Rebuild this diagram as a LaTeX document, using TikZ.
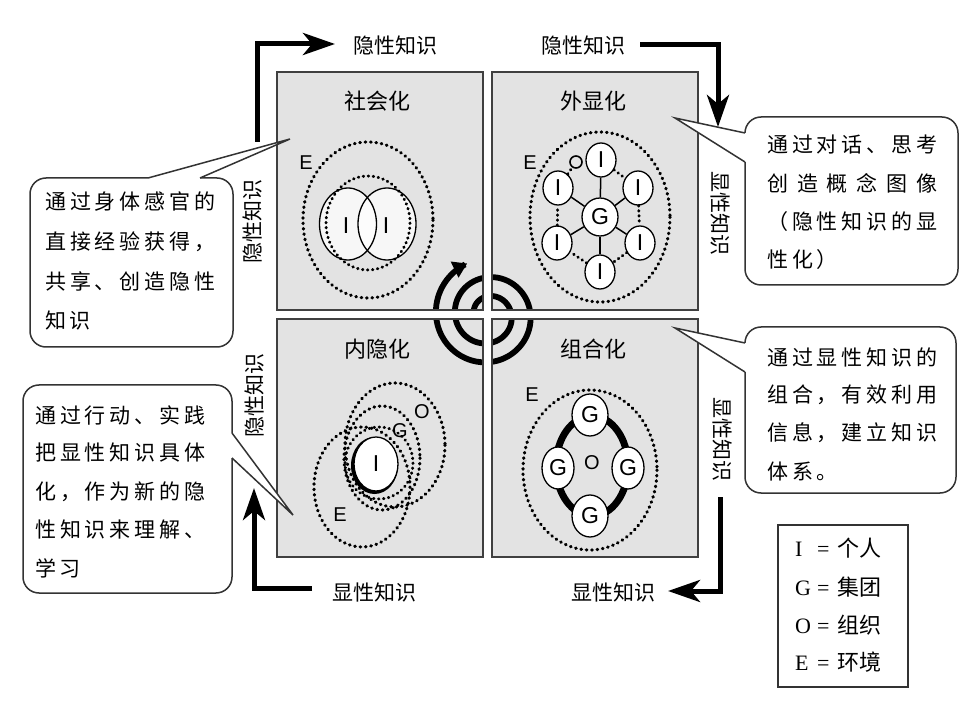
\documentclass[tikz,border=0pt]{standalone}
\usepackage{fontspec}
\setmainfont{Liberation Serif}
\newfontfamily\cjk{Noto Sans CJK SC}
\newfontfamily\lsans{Liberation Sans}
\usetikzlibrary{shapes.geometric,arrows.meta}
\def\spr#1{\sprA#1\relax}
\def\sprA#1#2{#1\ifx#2\relax\else\hfill\expandafter\sprA\expandafter#2\fi}
\newcommand\jl[2]{\makebox[#1][l]{\spr{#2}}}
\tikzset{
  boxfill/.style={fill=black!11},
  boxline/.style={draw=black!75, line width=1.4pt},
  dots/.style={line width=3.2pt, dash pattern=on 0.6pt off 4.8pt, line cap=round},
  sdots/.style={line width=3pt, dash pattern=on 0.5pt off 4.5pt, line cap=round},
  spoke/.style={line width=1.5pt},
  ell/.style={ellipse, draw=black, line width=1.3pt, inner sep=0pt},
  bigarrow/.style={line width=5pt, -{Stealth[length=32pt,width=22pt,inset=9pt]}},
  spiral/.style={line width=5.8pt, -{Triangle[length=14pt,width=17pt]}},
  title/.style={font=\cjk\fontsize{22}{22}\selectfont, inner sep=0pt},
  lab/.style={font=\cjk\fontsize{21}{21}\selectfont, inner sep=0pt},
  letter/.style={font=\lsans\fontsize{20}{20}\selectfont, inner sep=0pt},
  bigl/.style={font=\lsans\fontsize{23}{23}\selectfont},
  callout/.style={draw=black!80, line width=1.5pt, fill=white},
  ctext/.style={font=\cjk\fontsize{21}{21}\selectfont, inner sep=0pt, anchor=west},
  legtext/.style={font=\fontsize{22}{22}\selectfont, inner sep=0pt, anchor=west},
}
\begin{document}
\begin{tikzpicture}[x=1pt,y=-1pt]
\useasboundingbox (0,0) rectangle (975,703);
\fill[white] (0,0) rectangle (975,703);

% quadrant boxes
\foreach \a/\b/\c/\d in {277/72/483/310, 492/72/698/310, 277/319/483/557, 492/319/698/557}
  \fill[boxfill] (\a,\b) rectangle (\c,\d);

% spiral
\draw[spiral] plot[domain=10:788, samples=260, smooth, variable=\t]
  ({488 - (14+19*\t/360)*cos(\t)}, {315 - (14+19*\t/360)*sin(\t)});
\fill[white] (483,245) rectangle (492,385);
\fill[white] (415,310) rectangle (565,319);
\foreach \a/\b/\c/\d in {277/72/483/310, 492/72/698/310, 277/319/483/557, 492/319/698/557}
  \draw[boxline] (\a,\b) rectangle (\c,\d);

% titles
\node[title] (t1) at (377,101) {社会化};
\node[title] (t2) at (593,101) {外显化};
\node[title] (t3) at (377,349) {内隐化};
\node[title] (t4) at (593,349) {组合化};

% --- socialization (TL)
\draw[dots] (368,220) ellipse [x radius=65, y radius=78];
\fill[white, opacity=0.75] (348,224) ellipse [x radius=28.5, y radius=36];
\fill[white, opacity=0.75] (387,224) ellipse [x radius=29, y radius=36];
\node[ell, minimum width=57pt, minimum height=72pt] (sa) at (348,224) {};
\node[ell, minimum width=58pt, minimum height=72pt] (sb) at (387,224) {};
\draw[sdots] (368,223) ellipse [x radius=42, y radius=47];
\node[bigl] (sla) at (346,226) {I};
\node[bigl] (slb) at (386,226) {I};
\node[letter] (se) at (306,163) {E};

% --- externalization (TR)
\draw[dots] (600,217) ellipse [x radius=70, y radius=85];
\node[ell, fill=white, minimum width=36pt, minimum height=38pt, bigl] (g) at (600,217) {G};
\node[ell, fill=white, minimum width=30pt, minimum height=34pt, bigl] (iT) at (601,160) {I};
\node[ell, fill=white, minimum width=30pt, minimum height=34pt, bigl] (iUL) at (558,188) {I};
\node[ell, fill=white, minimum width=30pt, minimum height=34pt, bigl] (iUR) at (638,188) {I};
\node[ell, fill=white, minimum width=30pt, minimum height=34pt, bigl] (iLL) at (557,243) {I};
\node[ell, fill=white, minimum width=30pt, minimum height=34pt, bigl] (iLR) at (640,243) {I};
\node[ell, fill=white, minimum width=30pt, minimum height=34pt, bigl] (iB) at (600,272) {I};
\node[circle, draw=black, line width=1.6pt, minimum size=12pt, inner sep=0pt] (oc) at (576,162) {};
\foreach \n in {iT,iUL,iUR,iLL,iLR,iB} \draw[spoke] (g) -- (\n);
\draw[sdots] (iT) -- (iUR);
\draw[sdots] (iUR) -- (iLR);
\draw[sdots] (iLR) -- (iB);
\draw[sdots] (iB) -- (iLL);
\draw[sdots] (iLL) -- (iUL);
\draw[sdots] (iUL) -- (oc);
\node[letter] (xe) at (530,163) {E};

% --- internalization (BL)
\draw[dots] (395,445) ellipse [x radius=50, y radius=62];
\draw[dots] (382,458) ellipse [x radius=38, y radius=52];
\draw[sdots] (379,463) ellipse [x radius=34, y radius=36];
\draw[dots] (362,487) ellipse [x radius=48, y radius=60];
\fill[black] (374.5,465.5) ellipse [x radius=23.5, y radius=28.5];
\node[ell, fill=white, minimum width=44pt, minimum height=54pt, bigl] (ni) at (376,464) {I};
\node[letter] (no) at (422,412) {O};
\node[letter] (ng) at (400,431) {G};
\node[letter] (ne) at (340,515) {E};

% --- combination (BR)
\draw[dots] (590,470) ellipse [x radius=67, y radius=80];
\draw[line width=7pt] (592,466) ellipse [x radius=36, y radius=50];
\node[ell, fill=white, minimum width=36pt, minimum height=42pt, bigl] (gT) at (590,415) {G};
\node[ell, fill=white, minimum width=32pt, minimum height=42pt, bigl] (gL) at (558,468) {G};
\node[ell, fill=white, minimum width=32pt, minimum height=42pt, bigl] (gR) at (628,468) {G};
\node[ell, fill=white, minimum width=36pt, minimum height=42pt, bigl] (gB) at (590,516) {G};
\node[letter] (co) at (592,463) {O};
\node[letter] (ce) at (532,395) {E};

% --- callouts
% TL
\draw[callout, rounded corners=16pt] (30,178) rectangle (233,347);
\fill[white] (148,180) -- (148,178) -- (290,139) -- (200,178) -- (200,180) -- cycle;
\coordinate (p1) at (290,139);
\draw[callout, fill=none] (148,178) -- (p1) -- (200,178);
\node[ctext] (c11) at (45,202) {\jl{170pt}{通过身体感官的}};
\node[ctext] (c12) at (45,242) {\jl{170pt}{直接经验获得，}};
\node[ctext] (c13) at (45,281) {\jl{170pt}{共享、创造隐性}};
\node[ctext] (c14) at (45,320) {\jl{45.8pt}{知识}};
% TR
\draw[callout, rounded corners=16pt] (745,117) rectangle (958,285);
\fill[white] (747,133) -- (745,133) -- (675,118) -- (745,162) -- (747,162) -- cycle;
\coordinate (p2) at (675,118);
\draw[callout, fill=none] (745,133) -- (p2) -- (745,162);
\node[ctext] (c21) at (767,145) {\jl{170pt}{通过对话、思考}};
\node[ctext] (c22) at (767,183) {\jl{170pt}{创造概念图像}};
\node[ctext] (c23) at (767,222) {\jl{170pt}{（隐性知识的显}};
\node[ctext] (c24) at (767,260) {\jl{70.7pt}{性化）}};
% BL
\draw[callout, rounded corners=16pt] (23,385) rectangle (232,593);
\fill[white] (230,433) -- (232,433) -- (293,515) -- (232,458) -- (230,458) -- cycle;
\coordinate (p3) at (293,515);
\draw[callout, fill=none] (232,433) -- (p3) -- (232,458);
\node[ctext] (c31) at (35,415) {\jl{170pt}{通过行动、实践}};
\node[ctext] (c32) at (35,453) {\jl{170pt}{把显性知识具体}};
\node[ctext] (c33) at (35,492) {\jl{170pt}{化，作为新的隐}};
\node[ctext] (c34) at (35,530) {\jl{170pt}{性知识来理解、}};
\node[ctext] (c35) at (35,568) {\jl{45.8pt}{学习}};
% BR
\draw[callout, rounded corners=16pt] (745,327) rectangle (956,493);
\fill[white] (747,343) -- (745,343) -- (675,328) -- (745,372) -- (747,372) -- cycle;
\coordinate (p4) at (675,328);
\draw[callout, fill=none] (745,343) -- (p4) -- (745,372);
\node[ctext] (c41) at (767,357) {\jl{170pt}{通过显性知识的}};
\node[ctext] (c42) at (767,395) {\jl{170pt}{组合，有效利用}};
\node[ctext] (c43) at (767,433) {\jl{170pt}{信息，建立知识}};
\node[ctext] (c44) at (767,472) {\jl{70.7pt}{体系。}};

% --- flow labels
\node[lab] (tt1) at (395,46) {隐性知识};
\node[lab] (tt2) at (583,46) {隐性知识};
\node[lab] (bb1) at (374,592) {显性知识};
\node[lab] (bb2) at (613,592) {显性知识};
\node[lab, rotate=90] (sl1) at (253,222) {隐性知识};
\node[lab, rotate=90] (sl2) at (255,395) {隐性知识};
\node[lab, rotate=-90] (sr1) at (720,214) {显性知识};
\node[lab, rotate=-90] (sr2) at (722,440) {显性知识};

% --- flow arrows
\coordinate (a1s) at (257,142); \coordinate (a1e) at (335,44);
\coordinate (a2s) at (640,45);  \coordinate (a2e) at (718,127);
\coordinate (a3s) at (312,588); \coordinate (a3e) at (254,488);
\coordinate (a4s) at (720,497); \coordinate (a4e) at (668,591);
\draw[bigarrow] (a1s) |- (a1e);
\draw[bigarrow] (a2s) -| (a2e);
\draw[bigarrow] (a3s) -| (a3e);
\draw[bigarrow] (a4s) |- (a4e);

% --- legend
\draw[draw=black!80, line width=1.5pt] (778,525) rectangle (908,687);
\node[legtext] (l1) at (795,548) {\makebox[22pt][l]{I}=\hspace{8pt}{\cjk 个人}};
\node[legtext] (l2) at (795,587) {\makebox[22pt][l]{G}=\hspace{8pt}{\cjk 集团}};
\node[legtext] (l3) at (795,625) {\makebox[22pt][l]{O}=\hspace{8pt}{\cjk 组织}};
\node[legtext] (l4) at (795,662) {\makebox[22pt][l]{E}=\hspace{8pt}{\cjk 环境}};
\end{tikzpicture}
\end{document}
